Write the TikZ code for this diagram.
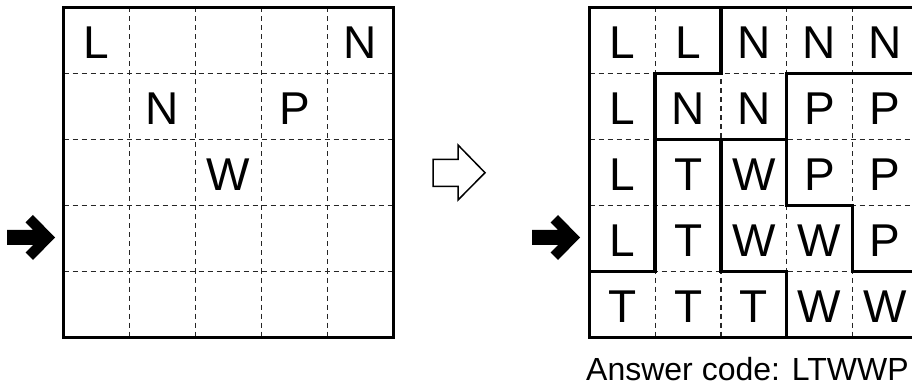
\documentclass[tikz,border=0pt]{standalone}
\usepackage{fontspec}
\setmainfont{Liberation Sans}
\begin{document}
\begin{tikzpicture}[x=1pt,y=-1pt,
  gridline/.style={line width=1.2pt,dash pattern=on 5pt off 4pt,draw=black!85},
  frame/.style={line width=3.6pt,line cap=rect,draw=black},
  region/.style={line width=3.6pt,line cap=rect,draw=black},
  letter/.style={font=\fontsize{46}{46}\selectfont,inner sep=0pt},
  bigarrow/.style={fill=black,draw=none},
  hollow/.style={draw=black,line width=1.5pt,fill=white,line join=miter}]
\useasboundingbox (0,0) rectangle (912,387);
% ---------- left puzzle ----------
\begin{scope}[shift={(63.5,7.5)},x=66pt,y=-66pt]
  \foreach \i in {1,2,3,4} {
    \draw[gridline] (\i,0) -- (\i,5);
    \draw[gridline] (0,\i) -- (5,\i);
  }
  \draw[frame] (0,0) rectangle (5,5);
  \node[letter] (a11) at (0.5,0.535) {L};
  \node[letter] (a15) at (4.5,0.535) {N};
  \node[letter] (a22) at (1.5,1.535) {N};
  \node[letter] (a24) at (3.5,1.535) {P};
  \node[letter] (a33) at (2.5,2.535) {W};
\end{scope}
% left black arrow
\draw[bigarrow] (7,230) -- (33,230) -- (25.5,222.5) -- (33,215) -- (55,237.5) -- (33,260) -- (25.5,252.5) -- (33,245) -- (7,245) -- cycle;
% hollow arrow
\draw[hollow] (433,159.5) -- (458,159.5) -- (458,145) -- (485,172.7) -- (458,200) -- (458,186.5) -- (433,186.5) -- cycle;
% right black arrow
\draw[bigarrow] (532,230) -- (558,230) -- (550.5,222.5) -- (558,215) -- (580,237.5) -- (558,260) -- (550.5,252.5) -- (558,245) -- (532,245) -- cycle;
% ---------- right solution ----------
\begin{scope}[shift={(589.5,7.5)},x=65.7pt,y=-66pt]
  \foreach \i in {1,2,3,4} {
    \draw[gridline] (\i,0) -- (\i,5);
    \draw[gridline] (0,\i) -- (5,\i);
  }
  % region boundaries
  \draw[region] (2,0) -- (2,1) -- (1,1) -- (1,4) -- (0,4);
  \draw[region] (1,2) -- (3,2) -- (3,1) -- (5,1);
  \draw[region] (2,2) -- (2,4) -- (3,4) -- (3,5);
  \draw[region] (3,2) -- (3,3) -- (4,3) -- (4,4) -- (5,4);
  \draw[frame] (0,0) rectangle (5,5);
  \foreach \r/\row in {1/{L,L,N,N,N},2/{L,N,N,P,P},3/{L,T,W,P,P},4/{L,T,W,W,P},5/{T,T,T,W,W}} {
    \foreach \ch [count=\c] in \row {
      \node[letter] (b\r\c) at (\c-0.5,\r-0.465) {\ch};
    }
  }
\end{scope}
\node[anchor=base west,inner sep=0pt,font=\fontsize{32}{32}\selectfont] (code) at (586,380) {Answer code: LTWWP};
\end{tikzpicture}
\end{document}
